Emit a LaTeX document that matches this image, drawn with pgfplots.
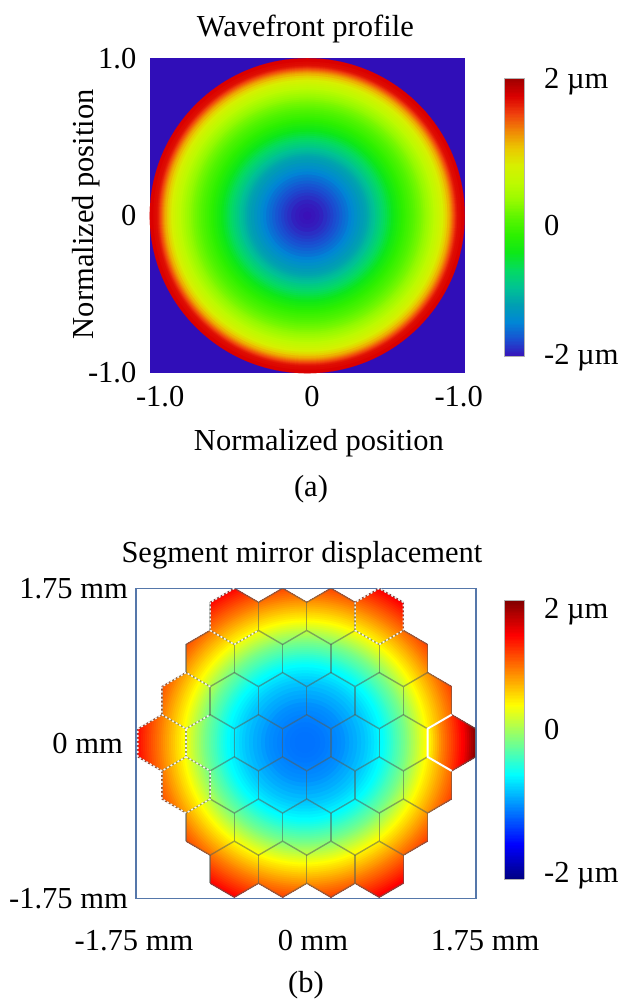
\documentclass[border=0pt]{standalone}
\usepackage{pgfplots}
\usepackage{pgfplotstable}
\pgfplotsset{compat=1.18}
\usepackage{fontspec}
\setmainfont{Liberation Serif}
\newcommand\F{\fontsize{30.5}{36}\selectfont}
\definecolor{bgblue}{RGB}{48,14,184}
\definecolor{framec}{RGB}{85,119,170}
\definecolor{hexc}{RGB}{85,95,90}
\pgfplotsset{
 colormap={wave}{rgb255=(58,16,184) rgb255=(26,78,209) rgb255=(0,134,214) rgb255=(0,158,179) rgb255=(0,195,147) rgb255=(4,218,99) rgb255=(13,232,24) rgb255=(44,240,0) rgb255=(90,245,0) rgb255=(150,250,0) rgb255=(190,250,0) rgb255=(215,240,0) rgb255=(235,200,0) rgb255=(240,135,5) rgb255=(240,63,13) rgb255=(218,0,0) rgb255=(160,0,0)},
 disks/.style={only marks,scatter,mark=*,scatter src=explicit,
  scatter/use mapped color={draw=mapped color,fill=mapped color},
  mark options={line width=0.1pt},
  visualization depends on={\thisrow{r} \as \rr},
  scatter/@pre marker code/.append style={/tikz/mark size=\rr}},
 table/hexlat/.style={x expr=\thisrow{u}*0.2486+0.008,y expr=\thisrow{v}*0.1586+0.0056},
}
% panel (a): radius in px of the picture, wavefront in um
\pgfplotstableread[row sep=\\]{r z\\157.5 1.75\\154 1.72\\152 1.70\\150 1.65\\149 1.6\\148 1.52\\147 1.45\\146 1.38\\145 1.3\\144 1.22\\143 1.15\\142 1.07\\140 .95\\138 .84\\136 .75\\134 .68\\132 .61\\130 .55\\128 .49\\126 .43\\124 .38\\122 .32\\120 .27\\118 .22\\116 .17\\114 .12\\112 .08\\110 .04\\108 0\\106 -.05\\104 -.09\\102 -.13\\100 -.17\\98 -.21\\96 -.25\\94 -.3\\92 -.35\\90 -.40\\88 -.45\\86 -.51\\84 -.56\\82 -.61\\80 -.67\\78 -.72\\76 -.77\\74 -.83\\72 -.88\\70 -.93\\68 -1.0\\66 -1.04\\64 -1.09\\62 -1.15\\60 -1.2\\58 -1.24\\56 -1.28\\53 -1.34\\50 -1.4\\47 -1.46\\44 -1.52\\41 -1.58\\38 -1.62\\35 -1.67\\32 -1.72\\29 -1.76\\26 -1.8\\23 -1.84\\20 -1.88\\16 -1.93\\12 -1.96\\8 -1.98\\4 -2\\}\wavefront
% panel (b)
\pgfplotstableread[row sep=\\]{r z\\195 1.85\\190 1.8\\188 1.77\\186 1.74\\184 1.71\\182 1.68\\180 1.65\\178 1.62\\176 1.59\\174 1.56\\172 1.53\\170 1.5\\168 1.46\\166 1.42\\164 1.38\\162 1.34\\160 1.30\\158 1.26\\156 1.22\\154 1.18\\152 1.14\\150 1.10\\148 1.06\\146 1.02\\144 .98\\142 .93\\140 .89\\138 .85\\136 .80\\134 .76\\132 .72\\130 .67\\128 .63\\126 .59\\124 .54\\122 .50\\120 .45\\118 .40\\116 .35\\114 .30\\112 .25\\110 .20\\108 .15\\106 .10\\104 .05\\102 0\\100 -.05\\98 -.09\\96 -.13\\94 -.17\\92 -.21\\90 -.25\\88 -.30\\86 -.34\\84 -.38\\82 -.42\\80 -.46\\78 -.50\\75 -.54\\72 -.58\\69 -.62\\66 -.66\\63 -.70\\60 -.74\\56 -.78\\52 -.82\\48 -.85\\44 -.89\\40 -.93\\36 -.95\\32 -.97\\28 -.99\\24 -1.01\\20 -1.03\\15 -1.04\\10 -1.05\\5 -1.05\\}\segment
\pgfplotstableread[row sep=\\]{r z\\180 2.0\\172 2.0\\170 1.92\\168 1.85\\166 1.77\\164 1.69\\162 1.62\\160 1.54\\158 1.5\\156 1.45\\154 1.4\\152 1.35\\150 1.3\\148 1.25\\146 1.2\\144 1.15\\142 1.1\\140 1.05\\138 1.0\\136 .93\\134 .85\\132 .78\\130 .71\\128 .63\\126 .56\\124 .49\\120 .4\\}\rightseg
% hexagon edges on the segment lattice
\pgfplotstableread[row sep=\\]{u v\\-4 10\\-3 11\\-2 10\\-1 11\\0 10\\1 11\\2 10\\3 11\\4 10\\nan nan\\
-5 7\\-4 8\\-3 7\\-2 8\\-1 7\\0 8\\1 7\\2 8\\3 7\\4 8\\5 7\\nan nan\\
-6 4\\-5 5\\-4 4\\-3 5\\-2 4\\-1 5\\0 4\\1 5\\2 4\\3 5\\4 4\\5 5\\6 4\\nan nan\\
-7 1\\-6 2\\-5 1\\-4 2\\-3 1\\-2 2\\-1 1\\0 2\\1 1\\2 2\\3 1\\4 2\\5 1\\6 2\\7 1\\nan nan\\
-7 -1\\-6 -2\\-5 -1\\-4 -2\\-3 -1\\-2 -2\\-1 -1\\0 -2\\1 -1\\2 -2\\3 -1\\4 -2\\5 -1\\6 -2\\7 -1\\nan nan\\
-6 -4\\-5 -5\\-4 -4\\-3 -5\\-2 -4\\-1 -5\\0 -4\\1 -5\\2 -4\\3 -5\\4 -4\\5 -5\\6 -4\\nan nan\\
-5 -7\\-4 -8\\-3 -7\\-2 -8\\-1 -7\\0 -8\\1 -7\\2 -8\\3 -7\\4 -8\\5 -7\\nan nan\\
-4 -10\\-3 -11\\-2 -10\\-1 -11\\0 -10\\1 -11\\2 -10\\3 -11\\4 -10\\}\zig
\pgfplotstableread[row sep=\\]{u v\\-4 9\\-2 9\\0 9\\2 9\\4 9\\-5 6\\-3 6\\-1 6\\1 6\\3 6\\5 6\\-6 3\\-4 3\\-2 3\\0 3\\2 3\\4 3\\6 3\\-7 0\\-5 0\\-3 0\\-1 0\\1 0\\3 0\\5 0\\7 0\\-6 -3\\-4 -3\\-2 -3\\0 -3\\2 -3\\4 -3\\6 -3\\-5 -6\\-3 -6\\-1 -6\\1 -6\\3 -6\\5 -6\\-4 -9\\-2 -9\\0 -9\\2 -9\\4 -9\\}\verts
\pgfplotstableread[row sep=\\]{u v\\-3 11\\-4 10\\-4 8\\-3 7\\-2 8\\nan nan\\
3 11\\2 10\\2 8\\3 7\\4 8\\4 10\\3 11\\nan nan\\
-4 4\\-5 5\\-6 4\\-6 2\\-5 1\\-4 2\\nan nan\\
-5 1\\-5 -1\\-6 -2\\-7 -1\\-7 1\\-6 2\\nan nan\\
-5 -1\\-4 -2\\-4 -4\\-5 -5\\-6 -4\\-6 -2\\}\dots
\pgfplotstableread[row sep=\\]{u v\\6 2\\5 1\\5 -1\\6 -2\\}\whiteedge
\begin{document}
\begin{tikzpicture}[x=1pt,y=1pt]
\path[use as bounding box] (0,0) rectangle (618,1001);
% ---------- panel (a)
\begin{axis}[at={(149.5pt,628pt)},anchor=south west,scale only axis,width=315.5pt,height=314.5pt,
 xmin=-1,xmax=1,ymin=-1,ymax=1,
 axis line style={draw=none},tick style={draw=none},
 axis background/.style={fill=bgblue},
 colormap name=wave,point meta min=-2,point meta max=2,
 xtick={-0.932,0.03,0.96},xticklabels={-1.0,0,-1.0},
 ytick={-1,0,1},yticklabels={-1.0,0,1.0},
 xticklabel style={font=\F,anchor=base,inner sep=0pt,yshift=-34pt},
 yticklabel style={font=\F,anchor=base east,inner sep=0pt,xshift=-13pt,yshift=-10pt},
 title={Wavefront profile},title style={font=\F,at={(axis description cs:0.494,1.075)},anchor=center},
 xlabel={Normalized position},xlabel style={font=\F,at={(axis description cs:0.537,-0.222)},anchor=center},
 ylabel={Normalized position},ylabel style={font=\F,at={(axis description cs:-0.2,0.505)},anchor=center},
 colorbar sampled,colorbar style={samples=200,scale only axis,width=20pt,height=278.4pt,anchor=north west,at={(1.1236,0.937)},
  axis line style={draw=gray!60,line width=.5pt},
  ytick={2,-0.118,-1.97},yticklabels={2 µm,0,-2 µm},yticklabel pos=right,
  major tick length=0pt,
  yticklabel style={font=\F,anchor=base west,inner sep=0pt,xshift=20pt,yshift=-10pt}},
]
\addplot[disks] table[x expr=0,y expr=0,meta=z]{\wavefront};
\end{axis}
\node[font=\F] at (311,512) {(a)};
% ---------- panel (b): fields clipped to the segments
\begin{scope}
\clip[shift={(306.8,258.2)},x=24.15pt,y=14.05pt] (-4,8)--(-4,10)--(-3,11)--(-2,10)--(-1,11)--(0,10)--(1,11)--(2,10)--(3,11)--(4,10)--(4,8)--(5,7)--(5,5)--(6,4)--(6,2)--(7,1)--(7,-1)--(6,-2)--(6,-4)--(5,-5)--(5,-7)--(4,-8)--(4,-10)--(3,-11)--(2,-10)--(1,-11)--(0,-10)--(-1,-11)--(-2,-10)--(-3,-11)--(-4,-10)--(-4,-8)--(-5,-7)--(-5,-5)--(-6,-4)--(-6,-2)--(-7,-1)--(-7,1)--(-6,2)--(-6,4)--(-5,5)--(-5,7)--cycle;
\begin{axis}[at={(136pt,102.7pt)},anchor=south west,scale only axis,width=340pt,height=310pt,
 xmin=-1.75,xmax=1.75,ymin=-1.75,ymax=1.75,hide axis,
 colormap/jet,point meta min=-2,point meta max=2]
\addplot[disks] table[x expr=-0.01,y expr=0.01,meta=z]{\segment};
\end{axis}
\end{scope}
\begin{scope}
\clip[shift={(306.8,258.2)},x=24.15pt,y=14.05pt] (6,2)--(7,1)--(7,-1)--(6,-2)--(5,-1)--(5,1)--cycle;
\begin{axis}[at={(136pt,102.7pt)},anchor=south west,scale only axis,width=340pt,height=310pt,
 xmin=-1.75,xmax=1.75,ymin=-1.75,ymax=1.75,hide axis,
 colormap/jet,point meta min=-2,point meta max=2]
\addplot[disks] table[x expr=-0.01,y expr=0.01,meta=z]{\rightseg};
\end{axis}
\end{scope}
% ---------- panel (b): frame, edges, labels, colour bar
\begin{axis}[at={(136pt,102.7pt)},anchor=south west,scale only axis,width=340pt,height=310pt,
 xmin=-1.75,xmax=1.75,ymin=-1.75,ymax=1.75,
 axis line style={draw=framec,line width=1.1pt},tick style={draw=none},
 unbounded coords=jump,
 colormap/jet,point meta min=-2,point meta max=2,
 xtick={-1.75,0.072,1.75},xticklabels={-1.75 mm\hspace*{4pt},0 mm,\hspace*{18pt}1.75 mm},
 ytick={-1.75,0,1.75},yticklabels={-1.75 mm,0 mm\hspace*{5pt},1.75 mm},
 xticklabel style={font=\F,anchor=base,inner sep=0pt,yshift=-52pt},
 yticklabel style={font=\F,anchor=base east,inner sep=0pt,xshift=-8pt,yshift=-10pt},
 title={Segment mirror displacement},title style={font=\F,at={(axis description cs:0.488,1.088)},anchor=center},
 colorbar sampled,colorbar style={samples=200,scale only axis,width=20pt,height=279pt,anchor=north west,at={(1.0824,0.9623)},
  axis line style={draw=gray!60,line width=.5pt},
  ytick={1.885,0.15,-1.91},yticklabels={2 µm,0,-2 µm},yticklabel pos=right,
  major tick length=0pt,
  yticklabel style={font=\F,anchor=base west,inner sep=0pt,xshift=20pt,yshift=-10pt}},
]
\addplot[hexc,opacity=.55,line width=1.4pt,line join=round] table[hexlat]{\zig};
\addplot[draw=none,error bars/.cd,y dir=both,y fixed=0.1586,error mark=none,
 error bar style={draw=hexc,opacity=.55,line width=1.4pt}] table[hexlat]{\verts};
\addplot[white!90!gray,line width=1.6pt,dash pattern=on 2pt off 2pt] table[hexlat]{\dots};
\addplot[white,line width=2pt] table[hexlat]{\whiteedge};
\end{axis}
\node[font=\F] at (306,16) {(b)};
\end{tikzpicture}
\end{document}
